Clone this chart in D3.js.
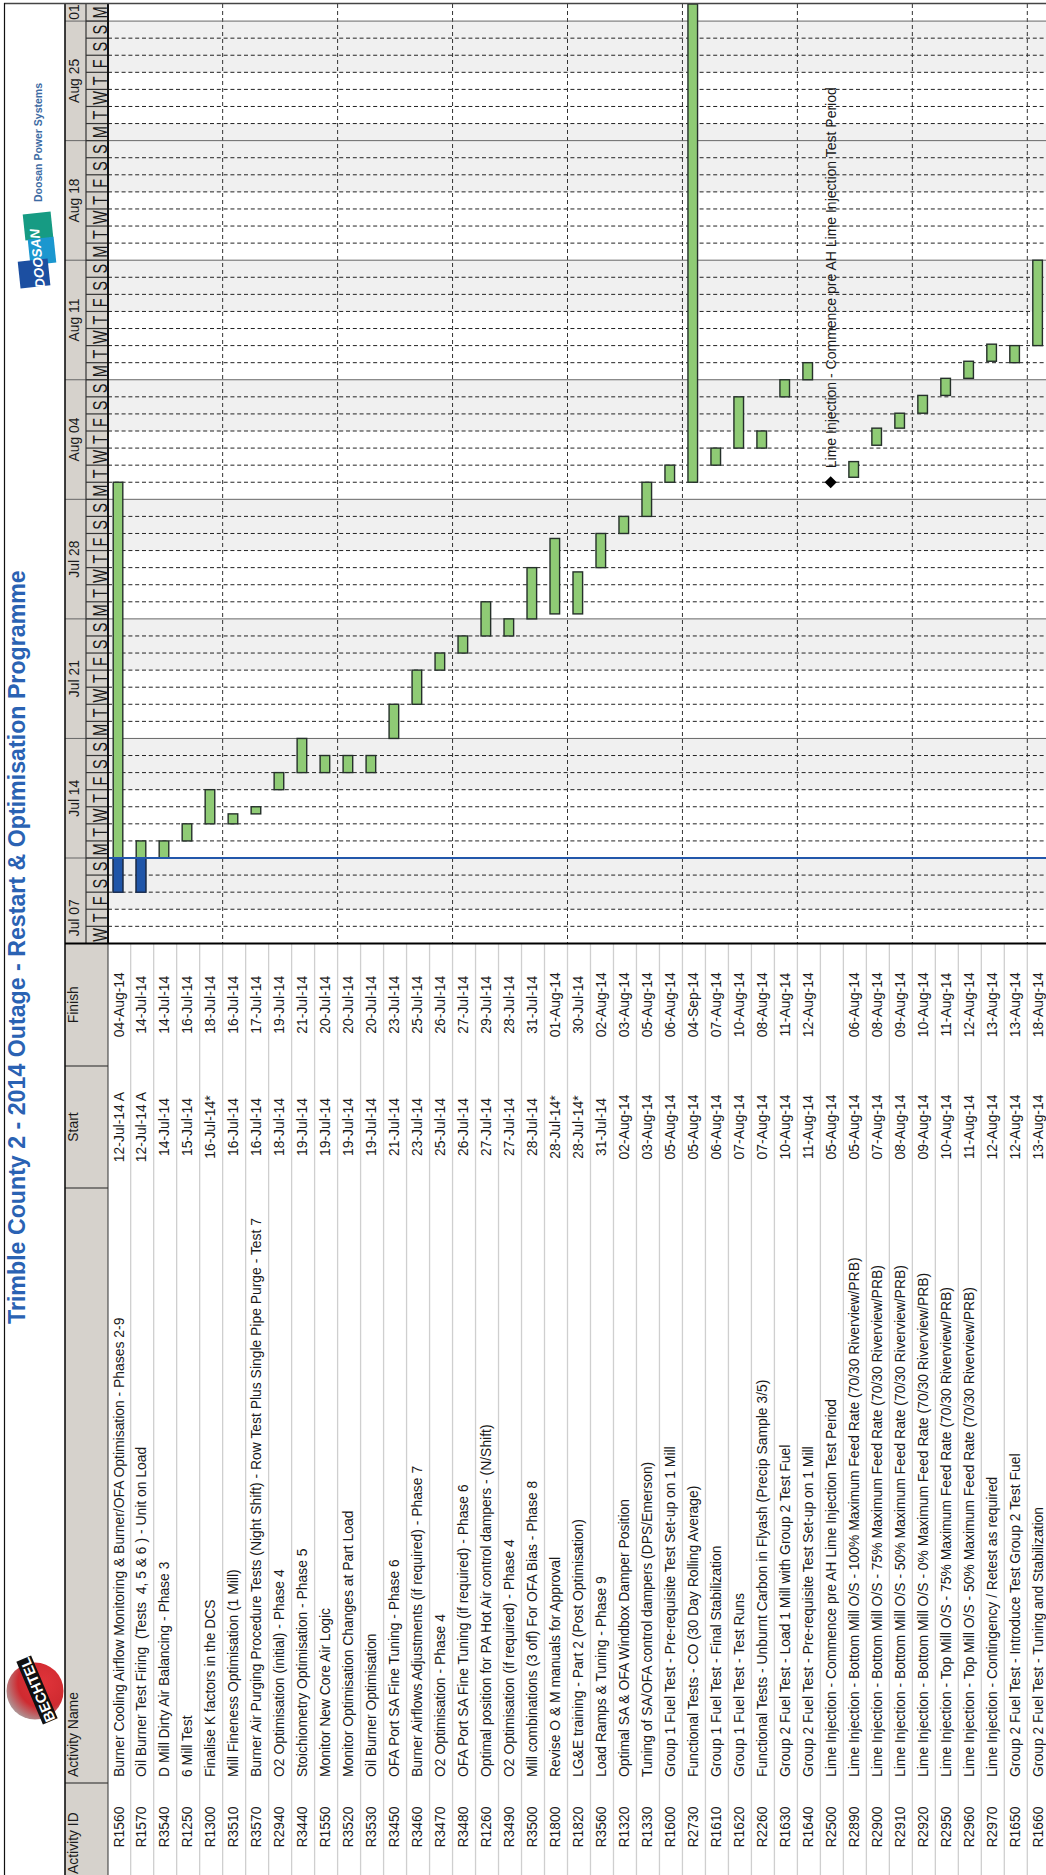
<!DOCTYPE html>
<html>
<head>
<meta charset="utf-8">
<script src="https://cdn.jsdelivr.net/npm/d3@7"></script>
<style>
  body { margin: 0; background: #fff; }
  svg { display: block; }
  text { font-family: "Liberation Sans", Arial, sans-serif; white-space: pre; fill: #1a1a1a; }
</style>
</head>
<body>
<div id="chart"></div>
<script>
// Activity table
const activityIds = ["R1560","R1570","R3540","R1250","R1300","R3510","R3570","R2940","R3440","R1550","R3520","R3530","R3450","R3460","R3470","R3480","R1260","R3490","R3500","R1800","R1820","R3560","R1320","R1330","R1600","R2730","R1610","R1620","R2260","R1630","R1640","R2500","R2890","R2900","R2910","R2920","R2950","R2960","R2970","R1650","R1660"];

const activityNames = [
  "Burner Cooling Airflow Monitoring & Burner/OFA Optimisation - Phases 2-9",
  "Oil Burner Test Firing  (Tests  4, 5 & 6 ) - Unit on Load",
  "D Mill Dirty Air Balancing - Phase 3",
  "6 Mill Test",
  "Finalise K factors in the DCS",
  "Mill Fineness Optimisation (1 Mill)",
  "Burner Air Purging Procedure Tests (Night Shift) - Row Test Plus Single Pipe Purge - Test 7",
  "O2 Optimisation (initial) - Phase 4",
  "Stoichiometry Optimisation - Phase 5",
  "Monitor New Core Air Logic",
  "Monitor Optimisation Changes at Part Load",
  "Oil Burner Optimisation",
  "OFA Port SA Fine Tuning - Phase 6",
  "Burner Airflows Adjustments (if required) - Phase 7",
  "O2 Optimisation - Phase 4",
  "OFA Port SA Fine Tuning (if required) - Phase 6",
  "Optimal position for PA Hot Air control dampers - (N/Shift)",
  "O2 Optimisation (if required) - Phase 4",
  "Mill combinations (3 off) For OFA Bias - Phase 8",
  "Revise O & M manuals for Approval",
  "LG&E training - Part 2 (Post Optimisation)",
  "Load Ramps & Tuning - Phase 9",
  "Optimal SA & OFA Windbox Damper Position",
  "Tuning of SA/OFA control dampers (DPS/Emerson)",
  "Group 1 Fuel Test - Pre-requisite Test Set-up on 1 Mill",
  "Functional Tests - CO (30 Day Rolling Average)",
  "Group 1 Fuel Test - Final Stabilization",
  "Group 1 Fuel Test - Test Runs",
  "Functional Tests - Unburnt Carbon in Flyash (Precip Sample 3/5)",
  "Group 2 Fuel Test - Load 1 Mill with Group 2 Test Fuel",
  "Group 2 Fuel Test - Pre-requisite Test Set-up on 1 Mill",
  "Lime Injection - Commence pre AH Lime Injection Test Period",
  "Lime Injection - Bottom Mill O/S - 100% Maximum Feed Rate (70/30 Riverview/PRB)",
  "Lime Injection - Bottom Mill O/S - 75% Maximum Feed Rate (70/30 Riverview/PRB)",
  "Lime Injection - Bottom Mill O/S - 50% Maximum Feed Rate (70/30 Riverview/PRB)",
  "Lime Injection - Bottom Mill O/S - 0% Maximum Feed Rate (70/30 Riverview/PRB)",
  "Lime Injection - Top Mill O/S - 75% Maximum Feed Rate (70/30 Riverview/PRB)",
  "Lime Injection - Top Mill O/S - 50% Maximum Feed Rate (70/30 Riverview/PRB)",
  "Lime Injection - Contingency / Retest as required",
  "Group 2 Fuel Test - Introduce Test Group 2 Test Fuel",
  "Group 2 Fuel Test - Tuning and Stabilization"
];

const startLabels = ["12-Jul-14 A","12-Jul-14 A","14-Jul-14","15-Jul-14","16-Jul-14*","16-Jul-14","16-Jul-14","18-Jul-14","19-Jul-14","19-Jul-14","19-Jul-14","19-Jul-14","21-Jul-14","23-Jul-14","25-Jul-14","26-Jul-14","27-Jul-14","27-Jul-14","28-Jul-14","28-Jul-14*","28-Jul-14*","31-Jul-14","02-Aug-14","03-Aug-14","05-Aug-14","05-Aug-14","06-Aug-14","07-Aug-14","07-Aug-14","10-Aug-14","11-Aug-14","05-Aug-14","05-Aug-14","07-Aug-14","08-Aug-14","09-Aug-14","10-Aug-14","11-Aug-14","12-Aug-14","12-Aug-14","13-Aug-14"];

const finishLabels = ["04-Aug-14","14-Jul-14","14-Jul-14","16-Jul-14","18-Jul-14","16-Jul-14","17-Jul-14","19-Jul-14","21-Jul-14","20-Jul-14","20-Jul-14","20-Jul-14","23-Jul-14","25-Jul-14","26-Jul-14","27-Jul-14","29-Jul-14","28-Jul-14","31-Jul-14","01-Aug-14","30-Jul-14","02-Aug-14","03-Aug-14","05-Aug-14","06-Aug-14","04-Sep-14","07-Aug-14","10-Aug-14","08-Aug-14","11-Aug-14","12-Aug-14","","06-Aug-14","08-Aug-14","09-Aug-14","10-Aug-14","11-Aug-14","12-Aug-14","13-Aug-14","13-Aug-14","18-Aug-14"];

// Bar ends as drawn on the timeline (date + hour)
const barStarts = ["07-12 00","07-12 00","07-14 00","07-15 00","07-16 00","07-16 00","07-16 14","07-18 00","07-19 00","07-19 00","07-19 00","07-19 00","07-21 00","07-23 00","07-25 00","07-26 00","07-27 00","07-27 00","07-28 00","07-28 07","07-28 07","07-31 00","08-02 00","08-03 00","08-05 00","08-05 00","08-06 00","08-07 00","08-07 00","08-10 00","08-11 00","08-05 00","08-05 07","08-07 04","08-08 04","08-09 01","08-10 02","08-11 02","08-12 02","08-12 00","08-13 00"];
const barEnds = ["08-05 00","07-15 00","07-15 00","07-16 00","07-18 00","07-16 14","07-17 00","07-19 00","07-21 00","07-20 00","07-20 00","07-20 00","07-23 00","07-25 00","07-26 00","07-27 00","07-29 00","07-28 00","07-31 00","08-01 17","07-30 18","08-02 00","08-03 00","08-05 00","08-06 00","09-04 00","08-07 00","08-10 00","08-08 00","08-11 00","08-12 00","","08-06 05","08-08 04","08-09 01","08-10 02","08-11 02","08-12 02","08-13 02","08-13 00","08-18 00"];

const actualIds = ["R1560", "R1570"];
const milestoneId = "R2500";
const milestoneNote = "Lime Injection - Commence pre AH Lime Injection Test Period";
const dataDate = "07-14 00";

const weekStarts = ["07-07 00","07-14 00","07-21 00","07-28 00","08-04 00","08-11 00","08-18 00","08-25 00"];
const weekLabels = ["Jul 07","Jul 14","Jul 21","Jul 28","Aug 04","Aug 11","Aug 18","Aug 25"];
const dayLetters = ["S","M","T","W","T","F","S"];
const extraNonWork = ["08-25 00"];

const parseDay = d3.utcParse("%Y-%m-%d %H");
const toDate = function(s) { return parseDay("2014-" + s); };

// Page layout
const pageWidth = 1046, pageHeight = 1875;
const leftEdge = 65, headerMid = 86, plotLeft = 108, plotTop = 4, plotBottom = 943.4;
const rowStep = 22.99;
const finishEnd = 1066, startEnd = 1188, nameEnd = 1783;
const cellFont = 13.9;

const svg = d3.select("#chart").append("svg")
  .attr("width", pageWidth)
  .attr("height", pageHeight);

// The whole sheet is turned a quarter: time runs up the page, rows run across it
const yTime = d3.scaleUtc()
  .domain([toDate("07-09 00"), toDate("09-02 00")])
  .range([plotBottom, plotTop])
  .clamp(true);

const xRow = d3.scaleBand()
  .domain(activityIds)
  .range([107.7, 107.7 + rowStep * activityIds.length]);

const allDays = d3.utcDay.range(yTime.domain()[0], yTime.domain()[1]);

// Header backgrounds
svg.append("rect").attr("x", leftEdge).attr("y", plotTop).attr("width", plotLeft - leftEdge)
  .attr("height", pageHeight - plotTop).attr("fill", "#d6d2cc");

// Non-work shading (Fri, Sat, Sun)
const shaded = allDays.filter(function(d) {
  return d.getUTCDay() === 5 || d.getUTCDay() === 6 || d.getUTCDay() === 0;
}).concat(extraNonWork.map(toDate));

svg.append("g").selectAll("rect")
  .data(shaded)
  .enter().append("rect")
  .attr("x", plotLeft)
  .attr("width", pageWidth - plotLeft)
  .attr("y", function(d) { return yTime(d3.utcDay.offset(d, 1)); })
  .attr("height", function(d) { return yTime(d) - yTime(d3.utcDay.offset(d, 1)); })
  .attr("fill", "#f0f0f0");

// Day gridlines
svg.append("g").selectAll("line")
  .data(allDays.filter(function(d) { return d.getUTCDay() !== 1 && d > yTime.domain()[0]; }))
  .enter().append("line")
  .attr("x1", plotLeft).attr("x2", pageWidth)
  .attr("y1", function(d) { return yTime(d); })
  .attr("y2", function(d) { return yTime(d); })
  .attr("stroke", "#222")
  .attr("stroke-width", 1)
  .attr("stroke-dasharray", "4,2.8");

// Every fifth row gets a dashed vertical
svg.append("g").selectAll("line")
  .data(activityIds.filter(function(d, i) { return i > 0 && i % 5 === 0; }))
  .enter().append("line")
  .attr("x1", function(d) { return xRow(d); })
  .attr("x2", function(d) { return xRow(d); })
  .attr("y1", plotTop).attr("y2", plotBottom)
  .attr("stroke", "#333")
  .attr("stroke-width", 1)
  .attr("stroke-dasharray", "4,3");

// Week lines
const mondays = allDays.filter(function(d) { return d.getUTCDay() === 1; });
svg.append("g").selectAll("line")
  .data(mondays)
  .enter().append("line")
  .attr("x1", leftEdge).attr("x2", pageWidth)
  .attr("y1", function(d) { return yTime(d); })
  .attr("y2", function(d) { return yTime(d); })
  .attr("stroke", "#666")
  .attr("stroke-width", 1);

// Day letters, one axis tick per day; the source stretches them across the header
const dayBand = d3.scaleBand()
  .domain(allDays)
  .range([plotBottom, plotTop]);

const dayAxis = d3.axisLeft(dayBand)
  .tickSize(0)
  .tickFormat(function(d) { return dayLetters[d.getUTCDay()]; });

svg.append("g")
  .attr("transform", "translate(" + (plotLeft - 1.5) + ",0)")
  .call(dayAxis)
  .call(function(g) { g.select(".domain").remove(); })
  .selectAll("text")
  .attr("x", 0).attr("y", 0).attr("dy", 0)
  .attr("text-anchor", "middle")
  .attr("transform", "rotate(-90) scale(1,1.4)")
  .style("font-family", '"Liberation Sans", Arial, sans-serif')
  .style("font-size", "14.5px")
  .attr("fill", "#1a1a1a");

svg.append("g").selectAll("line")
  .data(allDays.slice(1))
  .enter().append("line")
  .attr("x1", headerMid).attr("x2", plotLeft)
  .attr("y1", function(d) { return yTime(d); })
  .attr("y2", function(d) { return yTime(d); })
  .attr("stroke", "#333")
  .attr("stroke-width", 1.2);

// Rotated text helper
function vText(x, y, str, size, anchor) {
  return svg.append("text")
    .attr("transform", "translate(" + x + "," + y + ") rotate(-90)")
    .attr("text-anchor", anchor || "middle")
    .style("font-size", size + "px")
    .text(str);
}

// Week labels sit in the middle of the full week, even where the first is cut off
const yOpen = yTime.copy().clamp(false);
weekStarts.forEach(function(s, i) {
  const a = toDate(s);
  const mid = (yOpen(a) + yOpen(d3.utcDay.offset(a, 7))) / 2;
  vText(78.5, mid, weekLabels[i], cellFont);
});
vText(78.5, 12, "01", cellFont);

// Table cells
activityIds.forEach(function(id, i) {
  const base = xRow(id) + 15.8;
  vText(base, 1827, id, cellFont);
  vText(base, nameEnd - 6, activityNames[i], cellFont, "start");
  vText(base, (finishEnd + startEnd) / 2, startLabels[i], cellFont);
  if (finishLabels[i]) vText(base, (plotBottom + finishEnd) / 2, finishLabels[i], cellFont);
});

// Row separators in the table
svg.append("g").selectAll("line")
  .data(activityIds.slice(1))
  .enter().append("line")
  .attr("x1", function(d) { return xRow(d); })
  .attr("x2", function(d) { return xRow(d); })
  .attr("y1", plotBottom).attr("y2", pageHeight)
  .attr("stroke", "#cfcfcf")
  .attr("stroke-width", 1.3);

// Table header
vText(78, pageHeight - 1, "Activity ID", cellFont, "start");
vText(78, nameEnd - 6, "Activity Name", cellFont, "start");
vText(78, (finishEnd + startEnd) / 2, "Start", cellFont);
vText(78, (plotBottom + finishEnd) / 2, "Finish", cellFont);

[finishEnd, startEnd, nameEnd].forEach(function(y) {
  svg.append("line").attr("x1", leftEdge).attr("x2", plotLeft)
    .attr("y1", y).attr("y2", y)
    .attr("stroke", "#222").attr("stroke-width", 1.2);
});

// Bars
const barData = activityIds.map(function(id, i) {
  return { id: id, start: barStarts[i], end: barEnds[i] };
}).filter(function(d) { return d.end !== ""; });

const barGap = 5.5, barWidth = 9.6;

svg.append("g").selectAll("rect")
  .data(barData)
  .enter().append("rect")
  .attr("x", function(d) { return xRow(d.id) + barGap; })
  .attr("width", barWidth)
  .attr("y", function(d) { return yTime(toDate(d.end)); })
  .attr("height", function(d) { return yTime(toDate(d.start)) - yTime(toDate(d.end)); })
  .attr("fill", "#8fcb75")
  .attr("stroke", "#25302a")
  .attr("stroke-width", 1.4);

// Actual portion of the started activities
svg.append("g").selectAll("rect")
  .data(barData.filter(function(d) { return actualIds.indexOf(d.id) >= 0; }))
  .enter().append("rect")
  .attr("x", function(d) { return xRow(d.id) + barGap; })
  .attr("width", barWidth)
  .attr("y", yTime(toDate(dataDate)))
  .attr("height", function(d) { return yTime(toDate(d.start)) - yTime(toDate(dataDate)); })
  .attr("fill", "#1f55a8")
  .attr("stroke", "#1b2f55")
  .attr("stroke-width", 1.4);

// Data date line
svg.append("line")
  .attr("x1", plotLeft).attr("x2", pageWidth)
  .attr("y1", yTime(toDate(dataDate))).attr("y2", yTime(toDate(dataDate)))
  .attr("stroke", "#2257ab")
  .attr("stroke-width", 2);

// Milestone and its note
const milestoneX = xRow(milestoneId) + barGap + barWidth / 2;
const milestoneY = yTime(toDate(barStarts[activityIds.indexOf(milestoneId)]));

svg.append("path")
  .attr("d", d3.symbol().type(d3.symbolSquare).size(72)())
  .attr("transform", "translate(" + milestoneX + "," + milestoneY + ") rotate(45)")
  .attr("fill", "#000");

vText(milestoneX + 5, milestoneY - 14, milestoneNote, 14, "start");

// Heavy rules and frame
svg.append("line").attr("x1", leftEdge).attr("x2", leftEdge).attr("y1", plotTop).attr("y2", pageHeight)
  .attr("stroke", "#111").attr("stroke-width", 1.6);
svg.append("line").attr("x1", headerMid).attr("x2", headerMid).attr("y1", plotTop).attr("y2", plotBottom)
  .attr("stroke", "#333").attr("stroke-width", 1.2);
svg.append("line").attr("x1", plotLeft).attr("x2", plotLeft).attr("y1", plotTop).attr("y2", plotBottom)
  .attr("stroke", "#111").attr("stroke-width", 2);
svg.append("line").attr("x1", plotLeft).attr("x2", plotLeft).attr("y1", plotBottom).attr("y2", pageHeight)
  .attr("stroke", "#333").attr("stroke-width", 1);
svg.append("line").attr("x1", leftEdge).attr("x2", pageWidth).attr("y1", plotBottom).attr("y2", plotBottom)
  .attr("stroke", "#000").attr("stroke-width", 2);
svg.append("line").attr("x1", 4).attr("x2", pageWidth).attr("y1", 3.5).attr("y2", 3.5)
  .attr("stroke", "#444").attr("stroke-width", 1.5);
svg.append("line").attr("x1", 4.5).attr("x2", 4.5).attr("y1", 3).attr("y2", pageHeight)
  .attr("stroke", "#111").attr("stroke-width", 1.2);

// Title
vText(25, 1324, "Trimble County 2 - 2014 Outage - Restart & Optimisation Programme", 23.2, "start")
  .style("font-weight", "bold")
  .style("fill", "#2a62b3");

// Doosan logo, roughly
const doosan = svg.append("g");
doosan.append("rect").attr("x", 24).attr("y", 213).attr("width", 28).attr("height", 26)
  .attr("fill", "#169b83").attr("transform", "rotate(-6 38 226)");
doosan.append("rect").attr("x", 29).attr("y", 238).attr("width", 26).attr("height", 26)
  .attr("fill", "#1b97cf").attr("transform", "rotate(-6 42 251)");
doosan.append("rect").attr("x", 19).attr("y", 260).attr("width", 30).attr("height", 27)
  .attr("fill", "#1c4fa1").attr("transform", "rotate(-6 34 273)");
svg.append("text")
  .attr("text-anchor", "middle")
  .attr("transform", "translate(42,258) rotate(-96)")
  .style("font-size", "13.5px")
  .style("font-weight", "bold").style("font-style", "italic").style("fill", "#fff")
  .text("DOOSAN");
vText(41.5, 202, "Doosan Power Systems", 10.5, "start")
  .style("font-weight", "bold").style("fill", "#3d6ba3");

// Bechtel logo, roughly
const globeFill = svg.append("defs").append("radialGradient")
  .attr("id", "globe").attr("cx", "0.65").attr("cy", "0.35").attr("r", "0.75");
globeFill.append("stop").attr("offset", "0").attr("stop-color", "#e0343a");
globeFill.append("stop").attr("offset", "0.6").attr("stop-color", "#cf2a30");
globeFill.append("stop").attr("offset", "1").attr("stop-color", "#a9a5a5");

svg.append("circle").attr("cx", 35).attr("cy", 1691).attr("r", 28.5).attr("fill", "url(#globe)");
const bechtel = svg.append("g").attr("transform", "translate(37,1690) rotate(-113)");
bechtel.append("rect").attr("x", -34).attr("y", -8).attr("width", 68).attr("height", 16).attr("fill", "#111");
bechtel.append("text").attr("text-anchor", "middle").attr("y", 5.5)
  .style("font-size", "14.5px").style("font-weight", "bold").style("fill", "#fff").text("BECHTEL");
</script>
</body>
</html>
